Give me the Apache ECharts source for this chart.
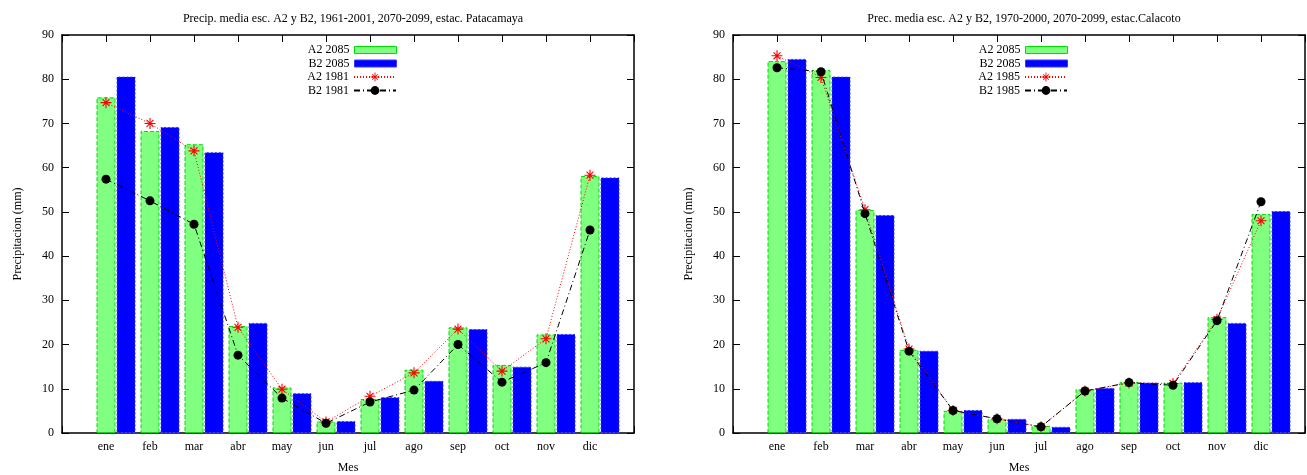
<!DOCTYPE html>
<html>
<head>
<meta charset="utf-8">
<script src="https://cdn.jsdelivr.net/npm/echarts@6/dist/echarts.min.js"></script>
<style>html,body{margin:0;padding:0;background:#fff}#c{width:1307px;height:475px}</style>
</head>
<body>
<div id="c"></div>
<script>
var months = ['ene','feb','mar','abr','may','jun','jul','ago','sep','oct','nov','dic'];
var yTicks = [0,10,20,30,40,50,60,70,80,90];

var titles = ['Precip. media esc. A2 y B2, 1961-2001, 2070-2099, estac. Patacamaya',
              'Prec. media esc. A2 y B2, 1970-2000, 2070-2099, estac.Calacoto'];

var patA2_2085 = [75.9, 68.3, 65.3, 24.2, 10.3, 2.6, 7.7, 14.3, 23.9, 15.4, 22.3, 58.1];
var patB2_2085 = [80.6, 69.2, 63.5, 24.9, 9.0, 2.7, 8.1, 11.8, 23.5, 15.0, 22.4, 57.8];
var patA2_1981 = [74.7, 70.0, 63.8, 23.9, 9.9, 2.5, 8.3, 13.6, 23.5, 14.0, 21.3, 58.3];
var patB2_1981 = [57.4, 52.5, 47.2, 17.6, 7.9, 2.2, 7.0, 9.7, 20.0, 11.5, 15.9, 45.9];

var calA2_2085 = [84.1, 82.1, 50.4, 18.8, 5.0, 3.1, 1.6, 9.9, 11.5, 11.4, 26.2, 49.5];
var calB2_2085 = [84.6, 80.6, 49.3, 18.6, 5.2, 3.2, 1.4, 10.2, 11.4, 11.5, 24.9, 50.2];
var calA2_1985 = [85.3, 80.4, 50.5, 19.0, 5.1, 3.2, 1.4, 9.5, 11.3, 11.2, 25.7, 48.0];
var calB2_1985 = [82.6, 81.7, 49.6, 18.5, 5.1, 3.2, 1.4, 9.5, 11.4, 10.8, 25.4, 52.3];

var FONT = "'Liberation Serif','DejaVu Serif',serif";
var BLUE_OFF = 0.455;
var STAR = 'path://M4.5,0 L5.5,0 L5.5,10 L4.5,10 Z M0,4.5 L10,4.5 L10,5.5 L0,5.5 Z M2.2,1.5 L8.5,7.8 L7.8,8.5 L1.5,2.2 Z M7.8,1.5 L8.5,2.2 L2.2,8.5 L1.5,7.8 Z';

function pts(arr, off) { return arr.map(function (v, i) { return [i + 1 + off, v]; }); }

var grids = [
  {left: 62, top: 35, width: 572, height: 398, containLabel: false, outerBoundsMode: 'none'},
  {left: 733, top: 35, width: 572, height: 398, containLabel: false, outerBoundsMode: 'none'}
];

var xAxes = [], yAxes = [];
[0,1].forEach(function (g) {
  xAxes.push({
    type: 'value', gridIndex: g, min: 0, max: 13, interval: 1, position: 'bottom',
    name: 'Mes', nameLocation: 'middle', nameGap: 29,
    nameTextStyle: {fontFamily: FONT, fontSize: 12, color: '#000'},
    axisLine: {onZero: false, lineStyle: {color: '#000', width: 1.5}},
    axisTick: {inside: true, length: 7, lineStyle: {color: '#000'}},
    axisLabel: {margin: 8, fontFamily: FONT, fontSize: 12, color: '#000',
      formatter: function (v) { return months[v - 1] || ''; }},
    splitLine: {show: false}
  });
  xAxes.push({
    type: 'value', gridIndex: g, min: 0, max: 13, interval: 1, position: 'top',
    axisLine: {onZero: false, lineStyle: {color: '#000', width: 1.5}},
    axisTick: {inside: true, length: 7, lineStyle: {color: '#000'}},
    axisLabel: {show: false}, splitLine: {show: false}
  });
  yAxes.push({
    type: 'value', gridIndex: g, min: yTicks[0], max: yTicks[yTicks.length - 1], interval: 10, position: 'left',
    name: 'Precipitacion (mm)', nameLocation: 'middle', nameGap: 38, nameRotate: 90,
    nameTextStyle: {fontFamily: FONT, fontSize: 12, color: '#000'},
    axisLine: {show: true, onZero: false, lineStyle: {color: '#000', width: 1.5}},
    axisTick: {show: true, inside: true, length: 7, lineStyle: {color: '#000'}},
    axisLabel: {margin: 8, fontFamily: FONT, fontSize: 12, color: '#000'},
    splitLine: {show: false}
  });
  yAxes.push({
    type: 'value', gridIndex: g, min: yTicks[0], max: yTicks[yTicks.length - 1], interval: 10, position: 'right',
    axisLine: {show: true, onZero: false, lineStyle: {color: '#000', width: 1.5}},
    axisTick: {show: true, inside: true, length: 7, lineStyle: {color: '#000'}},
    axisLabel: {show: false}, splitLine: {show: false}
  });
});

function barSeries(name, data, off, g, green) {
  return {
    type: 'bar', name: name, data: pts(data, off),
    xAxisIndex: g * 2, yAxisIndex: g * 2,
    barWidth: 19, barGap: '-100%',
    itemStyle: green
      ? {color: '#80ff80', borderColor: '#00dd00', borderWidth: 1, borderType: [4, 2]}
      : {color: '#0000ff', borderColor: '#3a3aff', borderWidth: 1, borderType: [2, 2]},
    z: 2
  };
}
function lineSeries(name, data, g, red) {
  return {
    type: 'line', name: name, data: pts(data, 0),
    xAxisIndex: g * 2, yAxisIndex: g * 2,
    symbol: red ? STAR : 'circle', symbolSize: red ? 11 : 9,
    itemStyle: {color: red ? '#ff0000' : '#000000'},
    lineStyle: red ? {color: '#ff0000', width: 1, type: [1, 2]} : {color: '#000000', width: 1, type: [6, 3, 1, 3]},
    z: red ? 4 : 5, animation: false
  };
}

var series = [
  barSeries('A2 2085', patA2_2085, 0, 0, true),
  barSeries('B2 2085', patB2_2085, BLUE_OFF, 0, false),
  lineSeries('A2 1981', patA2_1981, 0, true),
  lineSeries('B2 1981', patB2_1981, 0, false),
  barSeries('A2 2085', calA2_2085, 0, 1, true),
  barSeries('B2 2085', calB2_2085, BLUE_OFF, 1, false),
  lineSeries('A2 1985', calA2_1985, 1, true),
  lineSeries('B2 1985', calB2_1985, 1, false)
];

function legend(names, right, top, ih, isBar) {
  var l = {
    data: names, orient: 'vertical', right: right, top: top, align: 'right',
    itemWidth: 42, itemHeight: ih, itemGap: 1.5, padding: 0,
    textStyle: {fontFamily: FONT, fontSize: 12, color: '#000'},
    selectedMode: false
  };
  if (isBar) {
    l.icon = 'rect';
    l.itemStyle = {borderWidth: 1};
  }
  return l;
}

var option = {
  animation: false,
  backgroundColor: '#fff',
  title: [
    {text: titles[0], left: 348, top: 8, textAlign: 'center',
     textStyle: {fontFamily: FONT, fontSize: 12, fontWeight: 'normal', color: '#000'}},
    {text: titles[1], left: 1019, top: 8, textAlign: 'center',
     textStyle: {fontFamily: FONT, fontSize: 12, fontWeight: 'normal', color: '#000'}}
  ],
  legend: [
    legend(['A2 2085', 'B2 2085'], 910, 44, 7, true),
    legend(['A2 1981', 'B2 1981'], 910, 71, 11, false),
    legend(['A2 2085', 'B2 2085'], 239, 44, 7, true),
    legend(['A2 1985', 'B2 1985'], 239, 71, 11, false)
  ],
  grid: grids,
  xAxis: xAxes,
  yAxis: yAxes,
  series: series
};

var chart = echarts.init(document.getElementById('c'), null, {renderer: 'canvas'});
chart.setOption(option);
</script>
</body>
</html>
